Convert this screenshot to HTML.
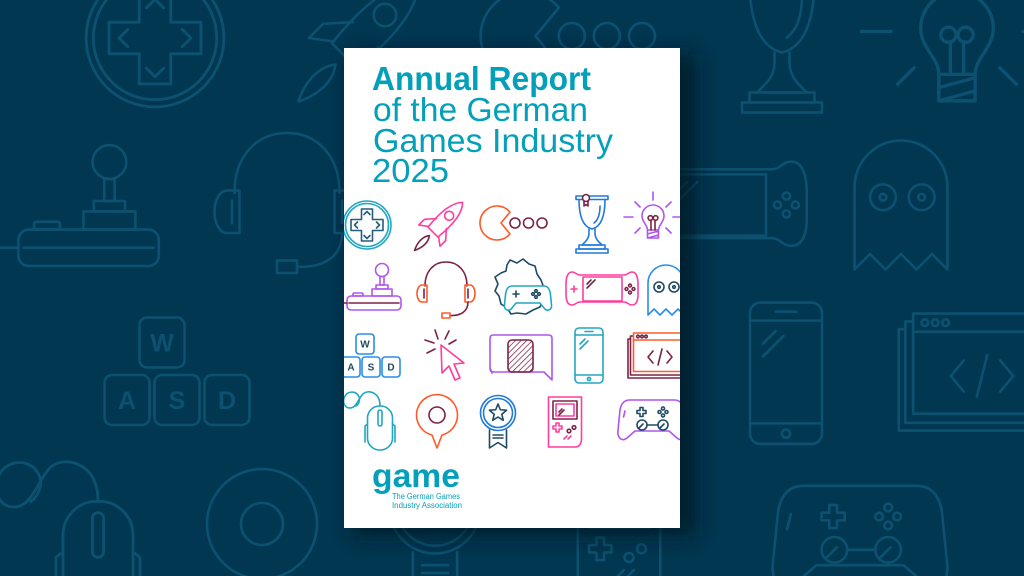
<!DOCTYPE html>
<html><head><meta charset="utf-8">
<style>
html,body{margin:0;padding:0;background:#023751;width:1024px;height:576px;overflow:hidden;}
svg{display:block;overflow:hidden;}
</style></head>
<body>
<svg xmlns="http://www.w3.org/2000/svg" width="1024" height="576" viewBox="0 0 1024 576" stroke-linecap="round" stroke-linejoin="round">
<defs>
  <filter id="sh" x="-20%" y="-20%" width="140%" height="140%"><feGaussianBlur stdDeviation="10"/></filter>
  <clipPath id="cov"><rect x="344" y="48" width="336" height="480"/></clipPath>
  <clipPath id="frame"><rect x="0" y="0" width="1024" height="576"/></clipPath>
  <pattern id="hatch" width="4" height="4" patternUnits="userSpaceOnUse" patternTransform="rotate(45)"><line x1="0" y1="0" x2="0" y2="4" stroke="#7b2346" stroke-width="1.5"/></pattern>

  <g id="dpad" fill="none" style="stroke:var(--a)">
    <circle r="24"/><circle r="21.5"/>
    <g style="stroke:var(--b)">
      <path d="M-5.5,-16H5.5V-5.5H16V5.5H5.5V16H-5.5V5.5H-16V-5.5H-5.5Z"/>
      <path d="M-9.5,-3L-12.5,0L-9.5,3M9.5,-3L12.5,0L9.5,3M-3,-10.5L0,-13.5L3,-10.5M-3,10.5L0,13.5L3,10.5"/>
    </g>
  </g>

  <g id="rocket" fill="none" style="stroke:var(--a)"><g transform="rotate(45)">
    <path d="M0,-32C8,-24 9,-8 7,10H-7C-9,-8 -8,-24 0,-32Z"/>
    <circle cy="-13" r="4.5"/>
    <path d="M-7,-2L-15,7V15L-7,9M7,-2L15,7V15L7,9"/>
    <path style="stroke:var(--b)" d="M0,15C-4,20 -4,28 0,36C4,28 4,20 0,15Z"/>
  </g></g>

  <g id="pac" fill="none" style="stroke:var(--a)">
    <path d="M4,0L13,-10.9A17,17 0 1,0 13,10.9Z"/>
    <g style="stroke:var(--b)"><circle cx="18" r="5"/><circle cx="31.5" r="5"/><circle cx="45" r="5"/></g>
  </g>

  <g id="trophy" fill="none" style="stroke:var(--a)">
    <rect x="-16" y="-28" width="32" height="3.5"/>
    <path d="M-13,-24.5C-13,-6 -8,3 0,5C8,3 13,-6 13,-24.5"/>
    <path d="M8,-18C8,-10 6,-4 2,-1"/>
    <path d="M-3,5V9C-3,15 -7,18 -10,21H10C7,18 3,15 3,9V5"/>
    <rect x="-13" y="21" width="26" height="4"/>
    <rect x="-16" y="25" width="32" height="4"/>
    <g style="stroke:var(--b)">
      <circle cx="-6" cy="-26" r="3.5" style="fill:var(--f)"/>
      <path d="M-8,-23V-18L-6,-19.5L-4,-18V-23"/>
    </g>
  </g>

  <g id="bulb" fill="none" style="stroke:var(--a)">
    <path d="M-5.5,8C-5.5,3 -11,0 -11,-6A11,11 0 1,1 11,-6C11,0 5.5,3 5.5,8Z"/>
    <path d="M-5.5,8V16H5.5V8M-5.5,12L5.5,9M-5.5,16L5.5,13"/>
    <g style="stroke:var(--b)">
      <path d="M-2,8V-2M2,8V-2"/>
      <circle cx="-2.6" cy="-4" r="2.3"/><circle cx="2.6" cy="-4" r="2.3"/>
    </g>
    <path d="M0,-22V-30M-29,-5H-20M20,-5H29M-18,-20L-13,-15M18,-20L13,-15M-18,11L-13,6M18,11L13,6"/>
  </g>

  <g id="joy" fill="none" style="stroke:var(--a)">
    <circle cx="9" cy="-20" r="6.5"/>
    <rect x="7" y="-13.5" width="4" height="8.5"/>
    <rect x="3" y="-5" width="12" height="4"/>
    <rect x="-1" y="-1" width="20" height="7"/>
    <rect x="-26" y="6" width="54" height="14" rx="4"/>
    <rect x="-20" y="3" width="10" height="3" rx="1"/>
    <path style="stroke:var(--b)" d="M-36,13H-26M-24,13H26"/>
  </g>

  <g id="head" fill="none" style="stroke:var(--a)">
    <path style="stroke:var(--b)" d="M-21,-4C-21,-19 -12,-28 0,-28C12,-28 21,-19 21,-4"/>
    <path d="M-19,-5V12H-24C-27,12 -29,8 -29,3.5C-29,-1 -27,-5 -24,-5Z"/>
    <path d="M19,-5V12H24C27,12 29,8 29,3.5C29,-1 27,-5 24,-5Z"/>
    <path style="stroke:var(--b)" d="M-22,-1V8M22,-1V8M22,12C22,22 14,26 4,25.5"/>
    <rect x="-4" y="23" width="8" height="5"/>
  </g>

  <g id="germany" fill="none" style="stroke:var(--a)">
    <path style="stroke:var(--b)" d="M-10,-27L-3,-24L3,-28L9,-23L15,-21L17,-13L21,-7L24,1L19,6L23,13L20,20L13,23L6,27L-3,26L-9,27L-13,21L-19,17L-21,9L-25,4L-22,-3L-25,-10L-19,-14L-14,-16L-13,-22Z"/>
    <path style="fill:var(--f)" d="M-8,-1H24C28,-1 30,3 30.5,8L31.5,18C32,23 27,25 24,21L20,16H-4L-8,21C-11,25 -16,23 -15.5,18L-14.5,8C-14,3 -12,-1 -8,-1Z"/>
    <path style="stroke:var(--b)" d="M-7,7H-1M-4,4V10"/>
    <g style="stroke:var(--b)"><circle cx="16" cy="4" r="1.3"/><circle cx="16" cy="10" r="1.3"/><circle cx="13" cy="7" r="1.3"/><circle cx="19" cy="7" r="1.3"/></g>
  </g>

  <g id="psp" fill="none" style="stroke:var(--a)">
    <path d="M-22,-14H22C26,-14 26,-17 30,-17C34,-17 36,-12 36,-5V5C36,12 34,16 30,16C26,16 26,13 22,13H-22C-26,13 -26,16 -30,16C-34,16 -36,12 -36,5V-5C-36,-12 -34,-17 -30,-17C-26,-17 -26,-14 -22,-14Z"/>
    <rect x="-19" y="-12" width="39" height="24"/>
    <path d="M-31,0H-25M-28,-3V3"/>
    <g style="stroke:var(--b)">
      <path d="M-15,-5L-11,-9M-15,-1L-7,-9"/>
      <circle cx="28" cy="-3.5" r="1.4"/><circle cx="28" cy="3.5" r="1.4"/><circle cx="24.5" cy="0" r="1.4"/><circle cx="31.5" cy="0" r="1.4"/>
    </g>
  </g>

  <g id="ghost" fill="none" style="stroke:var(--a)">
    <path d="M-18,25V-7A18,18 0 0,1 18,-7V25L12,19L6,25L0,19L-6,25L-12,19Z"/>
    <g style="stroke:var(--b)">
      <circle cx="-7" cy="-3" r="5"/><circle cx="8" cy="-3" r="5"/>
      <circle cx="-7" cy="-3" r="1.3"/><circle cx="8" cy="-3" r="1.3"/>
    </g>
  </g>

  <g id="wasd" fill="none" style="stroke:var(--a)">
    <rect x="-15" y="-33" width="18" height="20" rx="3"/>
    <rect x="-29" y="-10" width="18" height="20" rx="3"/>
    <rect x="-9" y="-10" width="18" height="20" rx="3"/>
    <rect x="11" y="-10" width="18" height="20" rx="3"/>
    <g style="fill:var(--b);stroke:none" font-family="Liberation Sans, sans-serif" font-weight="bold" font-size="10" text-anchor="middle">
      <text x="-6" y="-19.5">W</text>
      <text x="-20" y="3.5">A</text>
      <text x="0" y="3.5">S</text>
      <text x="20" y="3.5">D</text>
    </g>
  </g>

  <g id="cursor" fill="none" style="stroke:var(--a)">
    <path d="M0,0L1,28L8,21L14,35L19,33L13,19L23,18Z"/>
    <path style="stroke:var(--b)" d="M-3,-6L-6,-15M4,-6L8,-14M-7,-2L-16,-5M-6,4L-14,8M8,-1L15,-5"/>
  </g>

  <g id="phone" fill="none" style="stroke:var(--a)">
    <rect x="-14" y="-27" width="28" height="55" rx="4"/>
    <path d="M-14,-20H14M-14,20H14M-4,-23.5H4M-9,-11L-4,-16M-9,-6L-1,-14"/>
    <circle cy="24" r="1.6"/>
  </g>

  <g id="code" fill="none" style="stroke:var(--a)">
    <rect x="-32" y="-18" width="70" height="39" style="stroke:var(--b);fill:var(--f)"/>
    <rect x="-29.5" y="-21" width="70" height="39" style="stroke:var(--b);fill:var(--f)"/>
    <rect x="-26.5" y="-24" width="70" height="38.5" style="fill:var(--f)"/>
    <path d="M-26.5,-17H43.5"/>
    <g style="stroke:var(--b)">
      <circle cx="-22" cy="-20.5" r="1.3"/><circle cx="-18" cy="-20.5" r="1.3"/><circle cx="-14" cy="-20.5" r="1.3"/>
      <path d="M-7,-6L-12,0L-7,6M7,-6L12,0L7,6M2,-8L-2,8"/>
    </g>
  </g>

  <g id="mouse" fill="none" style="stroke:var(--a)">
    <rect x="-12.5" y="-22" width="25" height="44" rx="12"/>
    <path d="M-12.5,-4L-15,-2V14M12.5,-4L15,-2V14"/>
    <rect x="-2" y="-18" width="4" height="16" rx="2"/>
    <path d="M0,-22C0,-28 -2,-32 -5,-34C-9,-37 -15,-37 -18,-33C-22,-28 -24,-20 -30,-20C-36,-20 -38,-27 -35,-32C-32,-37 -25,-37 -22,-33C-19,-29 -21,-24 -24,-22"/>
  </g>

  <g id="pin" fill="none" style="stroke:var(--a)">
    <path d="M-5,20A20.5,20.5 0 1,1 5,20L0,33Z"/>
    <circle style="stroke:var(--b)" r="8"/>
  </g>

  <g id="medal" fill="none" style="stroke:var(--a)">
    <circle r="17.5"/><circle r="14.5"/>
    <g style="stroke:var(--b)">
      <path d="M0,-9L2.35,-3.24L8.56,-2.78L3.8,1.24L5.29,7.28L0,4L-5.29,7.28L-3.8,1.24L-8.56,-2.78L-2.35,-3.24Z"/>
      <path d="M-8.5,17V35L0,29.5L8.5,35V17M-5,22H5M-5,25H5"/>
    </g>
  </g>

  <g id="gb" fill="none" style="stroke:var(--a)">
    <path d="M-16.5,-25H16.5V17C16.5,22 14,25 10,25H-16.5Z"/>
    <rect style="stroke:var(--b)" x="-12" y="-21" width="24" height="18"/>
    <rect x="-9" y="-18" width="18" height="12"/>
    <path style="stroke:var(--b)" d="M-6,-10L-3,-13M-6,-7L-1,-12"/>
    <path d="M-12,4H-9V1H-6V4H-3V7H-6V10H-9V7H-12Z"/>
    <g style="stroke:var(--b)"><circle cx="4" cy="9" r="1.8"/><circle cx="9" cy="5.5" r="1.8"/></g>
    <path d="M-1,17L2,14M3,17L6,14"/>
  </g>

  <g id="pad" fill="none" style="stroke:var(--a)">
    <path d="M-22,-20H22C28,-20 31,-16 32,-10L34,10C35,18 30,22 25,18L17,11H-17L-25,18C-30,22 -35,18 -34,10L-32,-10C-31,-16 -28,-20 -22,-20Z"/>
    <path d="M-27,-9L-28.5,-3"/>
    <g style="stroke:var(--b)">
      <circle cx="-10" cy="5" r="5"/><circle cx="11" cy="5" r="5"/>
      <path d="M-5,5H6M-13,8L-9,4M8,8L12,4"/>
      <path d="M-12,-12.5H-9V-9.5H-6V-6.5H-9V-3.5H-12V-6.5H-15V-9.5H-12Z"/>
      <circle cx="11" cy="-11.5" r="1.5"/><circle cx="11" cy="-4.5" r="1.5"/><circle cx="7.5" cy="-8" r="1.5"/><circle cx="14.5" cy="-8" r="1.5"/>
    </g>
  </g>
</defs>

<!-- background -->
<rect width="1024" height="576" fill="#023751"/>
<g clip-path="url(#frame)">
<g style="--a:#0c5270;--b:#0c5270;--f:#023751" stroke-width="1.0">
  <use href="#dpad" transform="translate(155,38) scale(2.87)"/>
  <use href="#rocket" transform="translate(362,38) scale(2.5)"/>
  <use href="#pac" transform="translate(525,36) scale(2.6)"/>
  <use href="#trophy" transform="translate(782,40) scale(2.5)"/>
  <use href="#bulb" transform="translate(957,48) scale(3.3)"/>
  <use href="#joy" transform="translate(86,214) scale(2.6)"/>
  <use href="#head" transform="translate(287,203) scale(2.5)"/>
  <use href="#psp" transform="translate(715,205) scale(2.55)"/>
  <use href="#ghost" transform="translate(901,205) scale(2.58)"/>
  <use href="#wasd" transform="translate(177,400) scale(2.5)"/>
  <use href="#phone" transform="translate(786,372) scale(2.57)"/>
  <use href="#code" transform="translate(982,376) scale(2.6)"/>
  <use href="#mouse" transform="translate(98,563) scale(2.8)"/>
  <use href="#medal" transform="translate(435,508) scale(2.6)"/>
  <use href="#gb" transform="translate(619,535) scale(2.5)"/>
  <use href="#pad" transform="translate(860,537) scale(2.56)"/>
  <circle cx="262" cy="524" r="55" fill="none" stroke="#0c5270" stroke-width="2.6"/>
  <circle cx="262" cy="524" r="21" fill="none" stroke="#0c5270" stroke-width="2.6"/>
</g>

<!-- cover shadow -->
<rect x="352" y="54" width="344" height="482" fill="#001624" opacity="0.75" filter="url(#sh)"/>
</g>
<!-- cover -->
<rect x="344" y="48" width="336" height="480" fill="#ffffff"/>

<g font-family="Liberation Sans, sans-serif" fill="#04a0ba">
  <text x="372" y="90" font-size="33" font-weight="bold" textLength="219" lengthAdjust="spacingAndGlyphs">Annual Report</text>
  <text x="373" y="121" font-size="33" textLength="215" lengthAdjust="spacingAndGlyphs">of the German</text>
  <text x="373" y="152" font-size="33" textLength="240" lengthAdjust="spacingAndGlyphs">Games Industry</text>
  <text x="372" y="182" font-size="33" textLength="77" lengthAdjust="spacingAndGlyphs">2025</text>
  <text x="372" y="487" font-size="33" font-weight="bold" textLength="88" lengthAdjust="spacingAndGlyphs">game</text>
  <text x="392" y="499" font-size="8" textLength="68" lengthAdjust="spacingAndGlyphs">The German Games</text>
  <text x="392" y="508" font-size="8" textLength="70" lengthAdjust="spacingAndGlyphs">Industry Association</text>
</g>

<g clip-path="url(#cov)" stroke-width="1.6" style="--f:#ffffff">
  <use href="#dpad" transform="translate(367,225)" style="--a:#22a7c2;--b:#235f7a"/>
  <use href="#rocket" transform="translate(440,225)" style="--a:#ff3d9e;--b:#7b2346"/>
  <use href="#pac" transform="translate(497,223)" style="--a:#ff5a28;--b:#7b2346"/>
  <use href="#trophy" transform="translate(592,224)" style="--a:#2179db;--b:#7b2346"/>
  <use href="#bulb" transform="translate(653,222)" style="--a:#b055ee;--b:#7b2346"/>
  <use href="#joy" transform="translate(373,290)" style="--a:#b055ee;--b:#7b2346"/>
  <use href="#head" transform="translate(446,290)" style="--a:#ff5a28;--b:#7b2346"/>
  <use href="#germany" transform="translate(520,287)" style="--a:#22a7c2;--b:#1f4a66"/>
  <use href="#psp" transform="translate(602,289)" style="--a:#ff3d9e;--b:#7b2346"/>
  <use href="#ghost" transform="translate(666,290)" style="--a:#2a8ee8;--b:#1f4a66"/>
  <use href="#wasd" transform="translate(371,367)" style="--a:#2a8ee8;--b:#1f4a66"/>
  <use href="#cursor" transform="translate(441,345)" style="--a:#ff3d9e;--b:#7b2346"/>
  <g transform="translate(521,357)" fill="none">
    <path stroke="#b055ee" d="M-27,-22H27C30,-22 31,-21 31,-18V23L23,15H-27C-30,15 -31,14 -31,11V-18C-31,-21 -30,-22 -27,-22Z"/>
    <path stroke="#b055ee" d="M-31,11L-29,16"/>
    <rect x="-13" y="-17" width="25" height="32" rx="4" fill="url(#hatch)" stroke="#7b2346"/>
  </g>
  <use href="#phone" transform="translate(589,355)" style="--a:#22a7c2;--b:#22a7c2"/>
  <use href="#code" transform="translate(660,357)" style="--a:#ff5a28;--b:#7b2346"/>
  <use href="#mouse" transform="translate(380,428)" style="--a:#22a7c2;--b:#22a7c2"/>
  <use href="#pin" transform="translate(437,415)" style="--a:#ff5a28;--b:#7b2346"/>
  <use href="#medal" transform="translate(498,413)" style="--a:#2179db;--b:#1f4a66"/>
  <use href="#gb" transform="translate(565,422)" style="--a:#ff3d9e;--b:#7b2346"/>
  <use href="#pad" transform="translate(652,420)" style="--a:#b055ee;--b:#1f4a66"/>
</g>
</svg>
</body></html>
